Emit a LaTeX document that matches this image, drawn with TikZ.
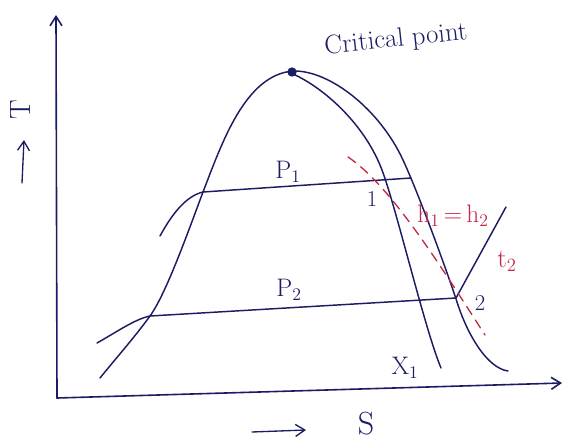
\documentclass[tikz,border=0pt]{standalone}
\usetikzlibrary{arrows.meta}
\definecolor{ink}{RGB}{28,28,100}
\definecolor{redink}{RGB}{195,40,70}
\begin{document}
\begin{tikzpicture}[x=0.75pt,y=-0.75pt, line cap=round, line join=round,
  curve/.style={draw=ink, line width=1.1pt},
  lbl/.style={text=ink, inner sep=0pt},
  rlbl/.style={text=redink, inner sep=0pt},
  axisline/.style={draw=ink, line width=1.2pt, -{Straight Barb[length=7pt,width=9pt]}},
  dashline/.style={draw=redink, line width=1pt, dash pattern=on 7pt off 5pt}]
\useasboundingbox (0,0) rectangle (564,443);
% axes
\coordinate (O) at (57,398);
\coordinate (Ytop) at (56,15);
\coordinate (Xend) at (562,383);
\draw[axisline] (O) -- (Ytop);
\draw[axisline] (O) -- (Xend);
% axis labels
\node[lbl, rotate=90, font=\fontsize{22}{24}\selectfont] (Tlbl) at (21,110) {T};
\coordinate (Ta) at (22,183);
\coordinate (Tb) at (24,140);
\draw[axisline, line width=1pt] (Ta) -- (Tb);
\node[lbl, font=\fontsize{24}{26}\selectfont] (Slbl) at (366,424) {S};
\coordinate (Sa) at (252,432);
\coordinate (Sb) at (306,430);
\draw[axisline, line width=1pt] (Sa) -- (Sb);
% saturation dome (left and outer right)
\coordinate (dL) at (100,378);
\coordinate (dL2) at (150,316);
\coordinate (dM) at (203,192);
\coordinate (cpt) at (293,71);
\coordinate (dR1) at (403,160);
\coordinate (dR2) at (458,305);
\coordinate (dR3) at (508,371);
\draw[curve] (dL) .. controls (117,357) and (134,338) .. (dL2)
  .. controls (166,294) and (188,232) .. (dM)
  .. controls (222,143) and (245,75) .. (cpt)
  .. controls (330,70) and (380,110) .. (dR1)
  .. controls (417,190) and (445,265) .. (dR2)
  .. controls (468,335) and (487,368) .. (dR3);
% inner quality line x1
\coordinate (iA) at (291,73);
\coordinate (iB) at (382,170);
\coordinate (iC) at (441,368);
\draw[curve] (iA) .. controls (325,88) and (365,125) .. (iB)
  .. controls (396,207) and (425,330) .. (iC);
% critical point
\node[circle, fill=ink, inner sep=0pt, minimum size=7pt] (cp) at (292,72) {};
\node[lbl, rotate=6, font=\fontsize{20}{22}\selectfont] (cplbl) at (396,40) {Critical point};
% constant pressure lines
\coordinate (p1a) at (160,236);
\coordinate (p1b) at (203,192);
\coordinate (p1c) at (411,178);
\draw[curve] (p1a) .. controls (172,214) and (186,196) .. (p1b) -- (p1c);
\coordinate (p2a) at (97,343);
\coordinate (p2b) at (150,316);
\coordinate (p2c) at (456,298);
\coordinate (p2d) at (506,207);
\draw[curve] (p2a) .. controls (115,333) and (135,319) .. (p2b) -- (p2c) -- (p2d);
% throttling line
\coordinate (hA) at (348,157);
\coordinate (hB) at (485,335);
\draw[dashline] (hA) .. controls (390,185) and (440,265) .. (hB);
% labels
\node[lbl, font=\fontsize{19}{21}\selectfont] (P1) at (288,172) {P\textsubscript{1}};
\node[lbl, font=\fontsize{19}{21}\selectfont] (P2) at (289,290) {P\textsubscript{2}};
\node[lbl, font=\fontsize{17}{19}\selectfont] (n1) at (372,199) {1};
\node[lbl, font=\fontsize{17}{19}\selectfont] (n2) at (480,303) {2};
\node[lbl, font=\fontsize{19}{21}\selectfont] (x1) at (405,368) {X\textsubscript{1}};
\node[rlbl, font=\fontsize{19}{21}\selectfont] (hh) at (453,216) {h\textsubscript{1}\,=\,h\textsubscript{2}};
\node[rlbl, font=\fontsize{20}{22}\selectfont] (t2) at (507,261) {t\textsubscript{2}};
\end{tikzpicture}
\end{document}
